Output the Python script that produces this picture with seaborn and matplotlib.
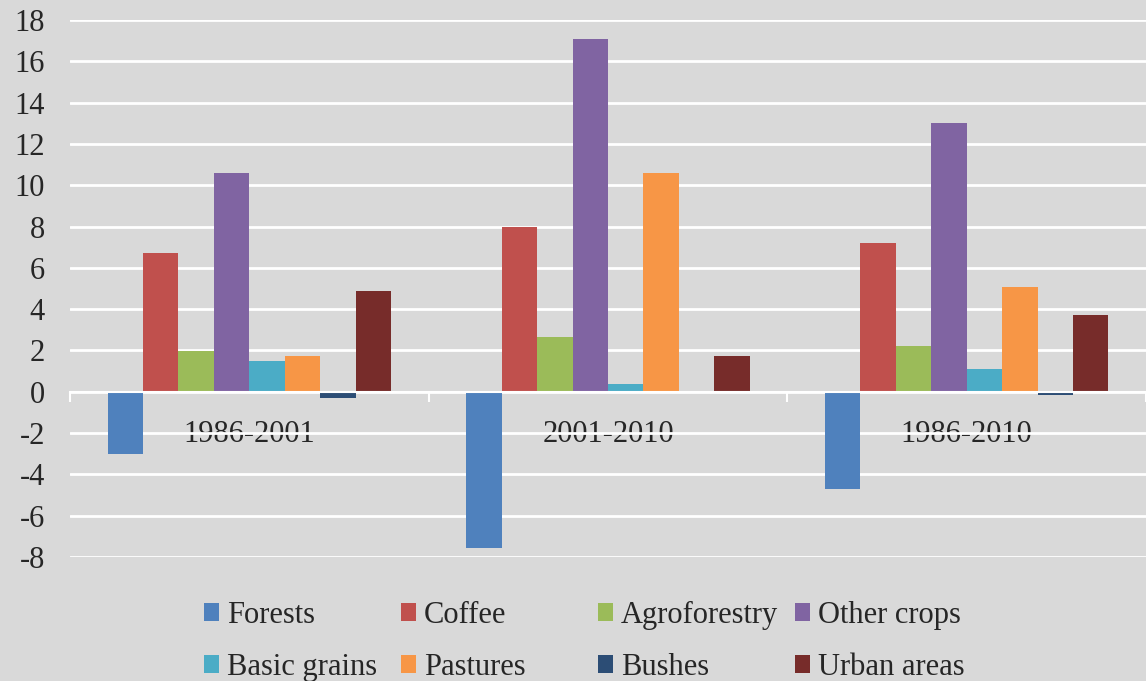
import glob
import pandas as pd
import matplotlib
matplotlib.use("Agg")
import matplotlib.pyplot as plt
from matplotlib import font_manager
import seaborn as sns

# values (% change per land use class)
periods = ["1986-2001", "2001-2010", "1986-2010"]
classes = ["Forests", "Coffee", "Agroforestry", "Other crops",
           "Basic grains", "Pastures", "Bushes", "Urban areas"]
vals_1986_2001 = [-3.0, 6.7, 1.95, 10.6, 1.5, 1.75, -0.3, 4.9]
vals_2001_2010 = [-7.58, 8.0, 2.65, 17.1, 0.4, 10.6, 0.0, 1.75]
vals_1986_2010 = [-4.72, 7.2, 2.22, 13.02, 1.1, 5.05, -0.18, 3.72]
colors = ["#4F81BD", "#C0504D", "#9BBB59", "#8064A2",
          "#4BACC6", "#F79646", "#2C4D75", "#772C2A"]

rows = []
for p, vals in zip(periods, [vals_1986_2001, vals_2001_2010, vals_1986_2010]):
    for c, v in zip(classes, vals):
        rows.append({"Period": p, "Class": c, "Value": v})
df = pd.DataFrame(rows)

bg = "#D9D9D9"
sns.set_theme(style="whitegrid")

# Times-like serif font
serif_files = []
for pat in ["LiberationSerif-Regular*", "Tinos-Regular*", "DejaVuSerif.ttf"]:
    serif_files += glob.glob("/usr/share/fonts/**/" + pat, recursive=True)
    serif_files += glob.glob("/usr/local/share/fonts/**/" + pat, recursive=True)
family = []
for f in serif_files:
    font_manager.fontManager.addfont(f)
    family.append(font_manager.FontProperties(fname=f).get_name())
plt.rcParams["font.family"] = family + ["Liberation Serif", "DejaVu Sans"]
plt.rcParams["axes.unicode_minus"] = False

fig = plt.figure(figsize=(11.46, 6.81), dpi=100, facecolor=bg)
ax = fig.add_axes([70 / 1146, 1 - 557 / 681, 1 - 70 / 1146, (557 - 20) / 681])
ax.set_facecolor(bg)

sns.barplot(data=df, x="Period", y="Value", hue="Class", hue_order=classes,
            palette=colors, width=0.79, linewidth=0, saturation=1, ax=ax)

ax.set_ylim(-8, 18)
ax.set_yticks(range(-8, 19, 2))
ax.set_xlim(-0.5, 2.5)
ax.grid(axis="y", color="white", linewidth=2)
ax.grid(axis="x", visible=False)
ax.set_axisbelow(True)
ax.set_xlabel("")
ax.set_ylabel("")
for s in ["top", "right", "left"]:
    ax.spines[s].set_visible(False)
ax.spines["bottom"].set_position(("data", 0))
ax.spines["bottom"].set_color("white")
ax.spines["bottom"].set_linewidth(1.5)

# group boundary ticks below the zero line
ax.set_xticks([-0.5, 0.5, 1.5, 2.5], minor=True)
ax.tick_params(axis="x", which="minor", length=7, width=1.5, color="white",
               direction="out", bottom=True)
ax.tick_params(axis="x", which="major", length=0, pad=20, labelsize=22)
ax.tick_params(axis="y", length=0, pad=18, labelsize=22)
for lbl in ax.get_yticklabels():
    lbl.set_horizontalalignment("right")

ax.legend_.remove()
handles, labels = ax.get_legend_handles_labels()
# Excel-style legend: 4 equally wide columns, filled row by row
col_x = [204, 401, 598, 795]
for j, x in enumerate(col_x):
    idx = [j, j + 4]
    leg = fig.legend([handles[i] for i in idx], [labels[i] for i in idx],
                     loc="upper left", ncol=1,
                     bbox_to_anchor=(x / 1146, 1 - 601 / 681), frameon=False,
                     fontsize=22, handlelength=0.5, handleheight=0.5,
                     handletextpad=0.25, labelspacing=0.75,
                     borderpad=0, borderaxespad=0)

fig.savefig("out.png", dpi=100, facecolor=bg)
